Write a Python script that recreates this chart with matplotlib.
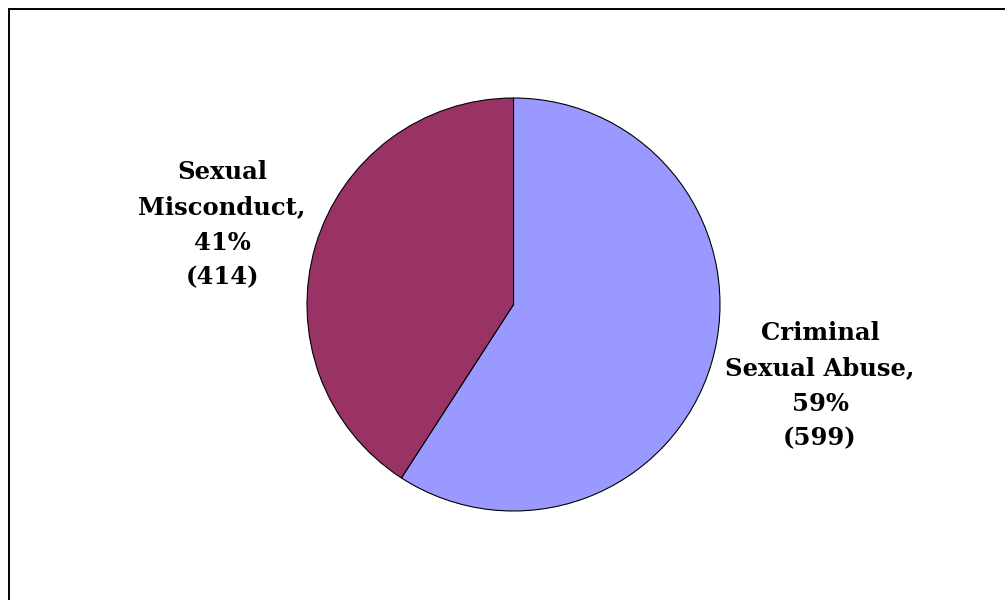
import matplotlib.pyplot as plt
from matplotlib.patches import Rectangle

# data
categories = ['Criminal\nSexual Abuse,', 'Sexual\nMisconduct,']
counts = [599, 414]
colors = ['#9999FF', '#993366']

W, H = 1005, 600
fig = plt.figure(figsize=(W / 100, H / 100), dpi=100)
ax = fig.add_axes([0, 0, 1, 1])

cx, cy, r = 513.5, H - 304.5, 206.5
wedges, _ = ax.pie(counts, colors=colors, startangle=90, counterclock=False,
                   center=(cx, cy), radius=r, frame=True,
                   wedgeprops=dict(edgecolor='black', linewidth=0.8))
ax.set_xlim(0, W)
ax.set_ylim(0, H)
ax.set_aspect('equal')
ax.axis('off')

total = sum(counts)
label_pos = [(820, H - 386), (222, H - 225)]
for cat, n, (x, y) in zip(categories, counts, label_pos):
    pct = round(100 * n / total)
    ax.text(x, y, f'{cat}\n{pct}%\n({n})', ha='center', va='center',
            fontsize=17.5, fontweight='bold', family='DejaVu Serif',
            linespacing=1.58)

# chart frame
ax.add_patch(Rectangle((9, -20), W + 20, H - 9 + 20, fill=False,
                       edgecolor='black', linewidth=1.4, clip_on=False))

fig.savefig('out.png', dpi=100)
